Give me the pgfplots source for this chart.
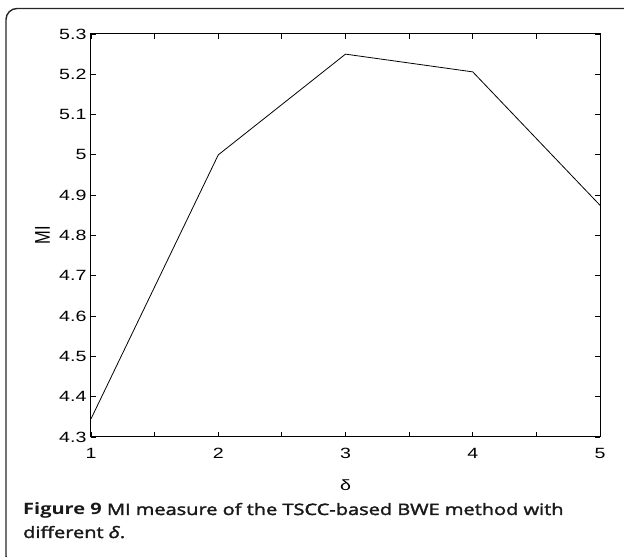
\documentclass[border=0pt]{standalone}
\usepackage{pgfplots}
\pgfplotsset{compat=1.18}
\usepackage{fontspec}
\setmainfont{Liberation Sans}
\newfontfamily\tickfont[FakeStretch=1.32]{Liberation Sans}
\newfontfamily\capfont[FakeStretch=1.27]{Open Sans}
\newfontfamily\capfontmed[FakeStretch=1.27,FakeBold=2.2]{Open Sans}
\begin{document}
\begin{tikzpicture}[x=1bp,y=1bp]
\useasboundingbox (-91,-120) rectangle (533,437);
\draw[line width=1.4bp, rounded corners=11bp, black!85] (-85,-130) rectangle (560,428.5);
\begin{axis}[
  at={(0,0)}, anchor=origin,
  scale only axis, width=509bp, height=403bp,
  xmin=1, xmax=5, ymin=4.3, ymax=5.3,
  xtick={1,2,3,4,5},
  minor xtick={1.5,2.5,3.5,4.5},
  ytick={4.3,4.4,...,5.3},
  yticklabel style={/pgf/number format/fixed, /pgf/number format/precision=1, xshift=-1bp},
  tick align=inside,
  major tick length=5bp, minor tick length=5bp,
  tick style={black, line width=0.8bp},
  axis line style={line width=1bp},
  ticklabel style={font=\tickfont\fontsize{14.9}{17}\selectfont},
  /pgf/number format/assume math mode=true,
  xticklabel style={yshift=-8bp},
  xlabel={δ}, ylabel={MI},
  xlabel style={font=\tickfont\fontsize{14.9}{17}\selectfont, at={(axis description cs:0.5,0)}, anchor=north, yshift=-39bp},
  ylabel style={font=\fontsize{16.5}{19}\selectfont, at={([xshift=-48.5bp]axis description cs:0,0.5)}, anchor=center, yscale=1.3},
]
\addplot[black, line width=0.8bp] coordinates {(1,4.345) (2,5.0) (3,5.25) (4,5.206) (5,4.875)};
\end{axis}
\node[anchor=base west, inner sep=0, font=\capfontmed\fontsize{15.8}{21}\selectfont, text=black!90] at (-68,-78) {{\capfont\bfseries Figure 9} MI measure of the TSCC-based BWE method with};
\node[anchor=base west, inner sep=0, font=\capfontmed\fontsize{15.8}{21}\selectfont, text=black!90] at (-68,-101) {different \textit{δ}.};
\end{tikzpicture}
\end{document}
